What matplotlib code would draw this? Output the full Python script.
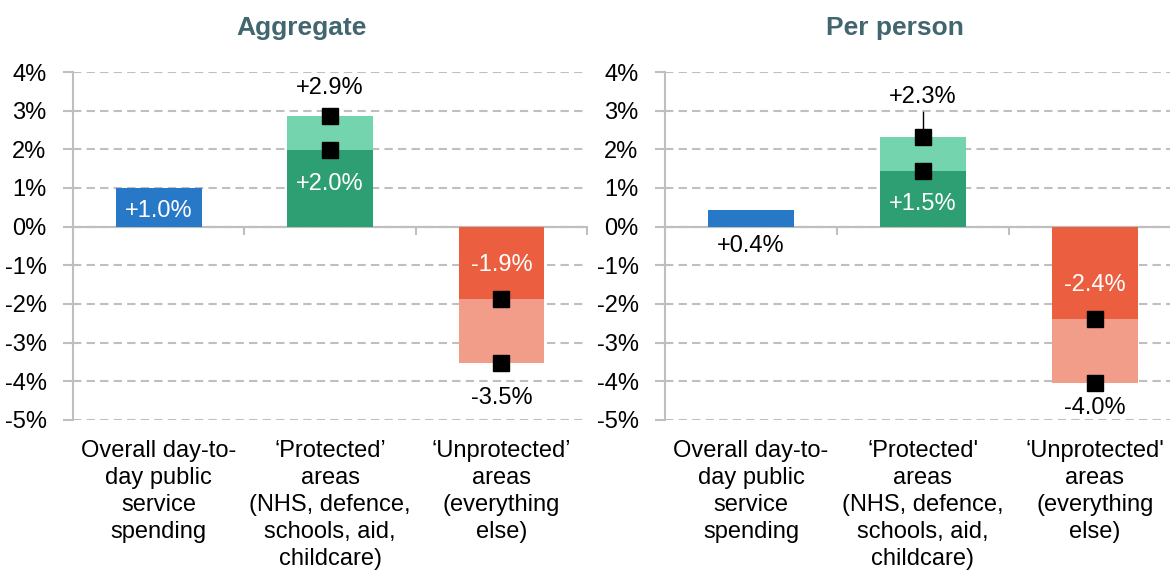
import numpy as np
import matplotlib
matplotlib.use("Agg")
import matplotlib.pyplot as plt
import matplotlib.transforms as mtransforms

plt.rcParams['font.family'] = ['Liberation Sans', 'DejaVu Sans']

# data (percentage change)
categories_left = ["Overall day-to-\nday public\nservice\nspending",
                   "\u2018Protected\u2019\nareas\n(NHS, defence,\nschools, aid,\nchildcare)",
                   "\u2018Unprotected\u2019\nareas\n(everything\nelse)"]
categories_right = ["Overall day-to-\nday public\nservice\nspending",
                    "\u2018Protected'\nareas\n(NHS, defence,\nschools, aid,\nchildcare)",
                    "\u2018Unprotected'\nareas\n(everything\nelse)"]

agg_base = [1.0, 1.99, -1.86]
agg_total = [1.0, 2.87, -3.53]
agg_labels_base = ["+1.0%", "+2.0%", "-1.9%"]
agg_labels_total = [None, "+2.9%", "-3.5%"]

pp_base = [0.44, 1.45, -2.38]
pp_total = [0.44, 2.33, -4.05]
pp_labels_base = ["+0.4%", "+1.5%", "-2.4%"]
pp_labels_total = [None, "+2.3%", "-4.0%"]

yticks = list(range(-5, 5))

dark_cols = ["#2878C8", "#2E9E73", "#EB5E40"]
light_cols = [None, "#74D4AE", "#F29C8A"]
grid_col = "#BFBFBF"
title_col = "#41666E"

fig = plt.figure(figsize=(11.7, 5.71), dpi=100)
ax1 = fig.add_axes([73/1170, 151/571, 514/1170, 348/571])
ax2 = fig.add_axes([665/1170, 151/571, 516/1170, 348/571])


def panel(ax, title, cats, base, total, lab_base, lab_total, tot_off, outside_base, leader):
    x = np.arange(len(base))
    ax.bar(x, base, width=0.5, color=dark_cols, zorder=3)
    for i in range(len(base)):
        if total[i] != base[i]:
            ax.bar(x[i], total[i] - base[i], bottom=base[i], width=0.5,
                   color=light_cols[i], zorder=3)
            ax.plot([x[i], x[i]], [base[i], total[i]], ls='none', marker='s',
                    ms=12, color='black', zorder=5)

    for i in range(len(base)):
        v = base[i]
        s = 1 if v > 0 else -1
        if outside_base[i]:
            ax.text(x[i], -0.5, lab_base[i], ha='center', va='center',
                    fontsize=17, color='black', zorder=6)
        else:
            yy = v - s * min(0.88, abs(v) * 0.59)
            ax.text(x[i], yy, lab_base[i], ha='center', va='center',
                    fontsize=17, color='white', zorder=6)
        if lab_total[i]:
            ty = total[i] + tot_off[i]
            ax.text(x[i], ty, lab_total[i], ha='center', va='center',
                    fontsize=17, color='black', zorder=6)
            if leader[i]:
                ax.plot([x[i], x[i]], [total[i] + 0.2, ty - 0.4],
                        color='black', lw=1, zorder=4)

    ax.set_xlim(-0.5, 2.5)
    ax.set_ylim(-5, 4)
    ax.set_yticks(yticks)
    ax.set_yticklabels([f"{t}%" for t in yticks], fontsize=17)
    ax.yaxis.grid(True, linestyle=(0, (4, 2.5)), color=grid_col, lw=1.5, zorder=0)
    ax.tick_params(axis='y', direction='out', length=7, width=1.5, color=grid_col, pad=12)
    ax.set_xticks([-0.5, 0.5, 1.5, 2.5])
    ax.set_xticklabels([])
    ax.tick_params(axis='x', direction='out', length=6, width=1.5, color=grid_col)
    ax.axhline(0, color=grid_col, lw=1.5, zorder=2)
    ax.spines['bottom'].set_position(('data', 0))
    ax.spines['bottom'].set_color(grid_col)
    ax.spines['bottom'].set_linewidth(1.5)
    ax.spines['left'].set_color(grid_col)
    ax.spines['left'].set_linewidth(1.5)
    ax.spines['top'].set_visible(False)
    ax.spines['right'].set_visible(False)
    ax.set_facecolor('none')

    trans = mtransforms.blended_transform_factory(ax.transData, ax.transAxes)
    for i, c in enumerate(cats):
        ax.text(x[i], -0.058, c, transform=trans, ha='center', va='top',
                fontsize=17, linespacing=1.29)

    ax.text(0.445, 1.126, title, transform=ax.transAxes, ha='center', va='center',
            fontsize=19, fontweight='bold', color=title_col)


panel(ax1, "Aggregate", categories_left, agg_base, agg_total,
      agg_labels_base, agg_labels_total, [0, 0.72, -0.89],
      [False, False, False], [False, False, False])
panel(ax2, "Per person", categories_right, pp_base, pp_total,
      pp_labels_base, pp_labels_total, [0, 1.03, -0.63],
      [True, False, False], [False, True, False])

fig.savefig("out.png", dpi=100)
